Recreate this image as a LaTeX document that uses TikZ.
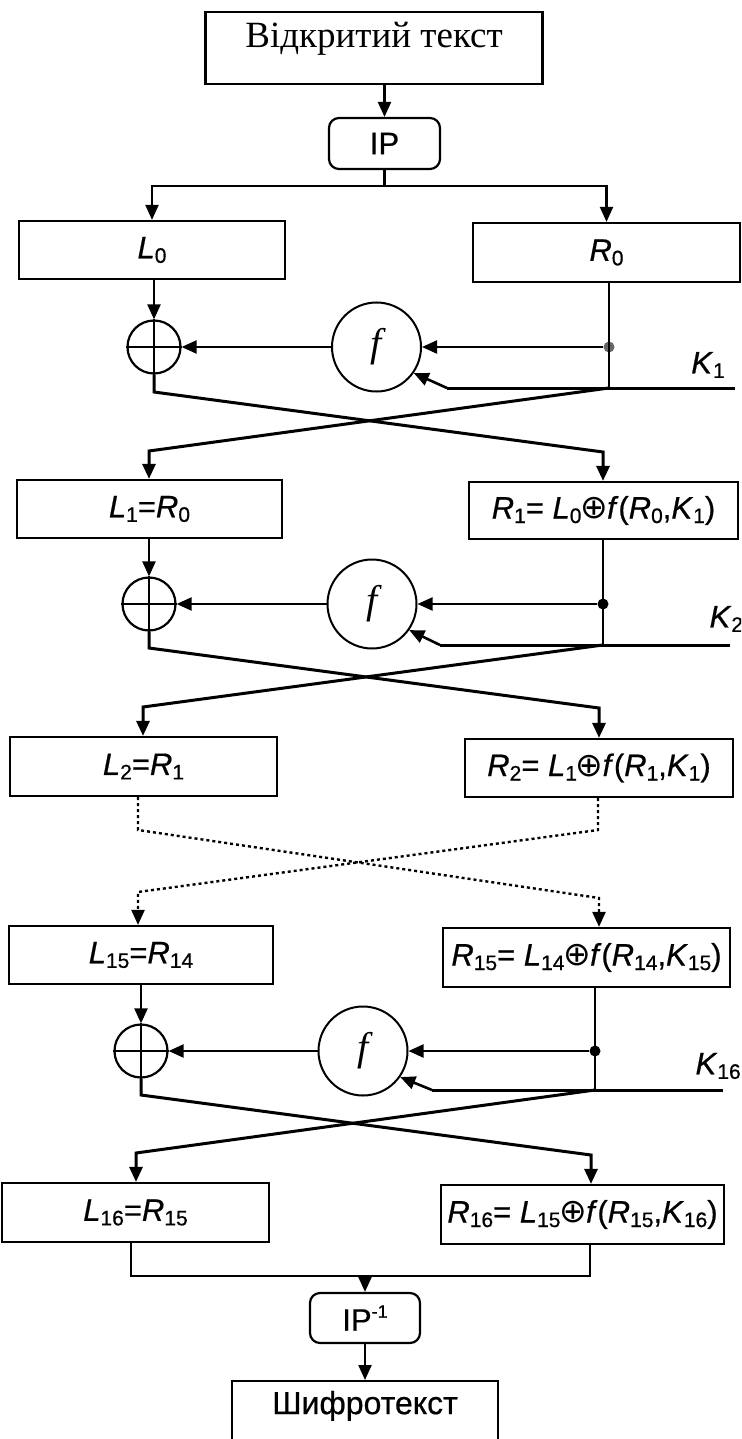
\documentclass[tikz,border=0pt]{standalone}
\usepackage{fontspec}
\setmainfont{Liberation Serif}
\newfontfamily\arial{Liberation Sans}[FakeBold=0.6]
\newfontfamily\djv{DejaVu Sans}
\usetikzlibrary{arrows.meta}
\newcommand\vv[2]{\textit{#1}\raisebox{-4.5pt}{\fontsize{21}{21}\selectfont #2}}
\newcommand\xo{{\djv\fontsize{33}{33}\selectfont\kern-1pt⊕\kern-1pt}}
\begin{document}
\begin{tikzpicture}[x=1pt,y=-1pt,
  box/.style={draw, line width=2.2pt, inner sep=0pt, font=\arial\fontsize{31}{33}\selectfont},
  rbox/.style={box, rounded corners=10pt},
  xorn/.style={circle, draw, line width=2.2pt, minimum size=53pt, inner sep=0pt},
  fn/.style={circle, draw, line width=2pt, minimum size=89pt, inner sep=0pt, font=\fontsize{40}{40}\selectfont\itshape},
  conn/.style={line width=2.2pt, -{Triangle[length=15pt,width=13pt]}},
  plain/.style={line width=2.2pt},
  cross/.style={line width=3pt, -{Triangle[length=15pt,width=13pt]}},
  kline/.style={line width=3pt},
  dots/.style={line width=2.4pt, dash pattern=on 3pt off 3pt, -{Triangle[length=15pt,width=13pt]}},
  dot/.style={circle, fill, inner sep=0pt, minimum size=11pt},
  klab/.style={font=\arial\fontsize{31}{33}\selectfont},
]
\useasboundingbox (0,0) rectangle (741,1439);
\clip (0,0) rectangle (741,1439);

% top
\node[box, font=\fontsize{37}{40}\selectfont, minimum width=337, text height=36pt, text depth=36pt] (pt) at (374,48) {Відкритий текст};
\node[rbox, minimum width=111, minimum height=51] (ip) at (384.5,143.5) {IP};
\draw[conn] (pt.south -| ip.south) -- (ip.north);
\node[box, minimum width=266, minimum height=58] (L0) at (152,250) {\vv{L}{0}};
\node[box, minimum width=267, minimum height=59] (R0) at (606.5,252.5) {\vv{R}{0}};
\coordinate (sp) at (384.5,186);
\draw[plain] (ip.south) -- (sp);
\draw[conn] (sp) -| (L0.north);
\draw[conn] (sp) -| (R0.north);

% round 1
\node[xorn] (x1) at (154,347) {};
\draw[plain] (x1.north) -- (x1.south) (x1.west) -- (x1.east);
\node[fn] (f1) at (376.5,347) {f};
\node[dot, black!60] (d1) at (609,347) {};
\coordinate (r0b) at (609,388);
\coordinate (k1s) at (447,388);
\coordinate (k1e) at (735,388);
\draw[conn] (x1.north |- L0.south) -- (x1.north);
\draw[plain] (R0.south -| d1) -- (r0b);
\draw[conn] (d1) -- (f1.east);
\draw[conn] (f1.west) -- (x1.east);
\draw[kline] (k1e) -- (k1s);
\draw[conn, line width=2.6pt] (k1s) -- (f1.-35);
\node[klab] (k1) at (708,365) {\vv{K}{1}};
\node[box, minimum width=265, minimum height=58] (L1) at (149.5,509) {\vv{L}{1}=\vv{R}{0}};
\node[box, minimum width=269, minimum height=57] (R1) at (603.5,510.5) {\vv{R}{1}= \vv{L}{0}\xo\textit{f}(\vv{R}{0},\vv{K}{1})};
\coordinate (a1) at (154,392);
\coordinate (b1) at (603,452);
\coordinate (c1) at (149,451);
\draw[cross] (x1.south) -- (a1) -- (b1) -- (b1 |- R1.north);
\draw[cross] (r0b) -- (c1) -- (c1 |- L1.north);

% round 2
\node[xorn] (x2) at (149,604) {};
\draw[plain] (x2.north) -- (x2.south) (x2.west) -- (x2.east);
\node[fn] (f2) at (372,604) {f};
\node[dot] (d2) at (603,604) {};
\coordinate (r1b) at (603,645);
\coordinate (k2s) at (440,645);
\coordinate (k2e) at (730,645);
\draw[conn] (x2.north |- L1.south) -- (x2.north);
\draw[plain] (R1.south -| d2) -- (r1b);
\draw[conn] (d2) -- (f2.east);
\draw[conn] (f2.west) -- (x2.east);
\draw[kline] (k2e) -- (k2s);
\draw[conn, line width=2.6pt] (k2s) -- (f2.-35);
\node[klab, anchor=west] (k2) at (706,619) {\vv{K}{2}};
\node[box, minimum width=267, minimum height=59] (L2) at (143.5,766.5) {\vv{L}{2}=\vv{R}{1}};
\node[box, minimum width=268, minimum height=58] (R2) at (599,768) {\vv{R}{2}= \vv{L}{1}\xo\textit{f}(\vv{R}{1},\vv{K}{1})};
\coordinate (a2) at (149,648);
\coordinate (b2) at (599,708);
\coordinate (c2) at (143,707);
\draw[cross] (x2.south) -- (a2) -- (b2) -- (b2 |- R2.north);
\draw[cross] (r1b) -- (c2) -- (c2 |- L2.north);

% dotted part
\node[box, minimum width=264, minimum height=58] (L15) at (141,955) {\vv{L}{15}=\vv{R}{14}};
\node[box, minimum width=287, minimum height=59] (R15) at (586.5,957.5) {\vv{R}{15}= \vv{L}{14}\xo\textit{f}(\vv{R}{14},\vv{K}{15})};
\coordinate (p1) at (138,830);
\coordinate (p2) at (598,830);
\coordinate (q1) at (599,898);
\coordinate (q2) at (138,892);
\draw[dots] (L2.south -| p1) -- (p1) -- (q1) -- (q1 |- R15.north);
\draw[dots] (R2.south -| p2) -- (p2) -- (q2) -- (q2 |- L15.north);

% round 16
\node[xorn] (x3) at (141,1051) {};
\draw[plain] (x3.north) -- (x3.south) (x3.west) -- (x3.east);
\node[fn] (f3) at (363,1051) {f};
\node[dot] (d3) at (595,1051) {};
\coordinate (r15b) at (595,1090);
\coordinate (k3s) at (432,1090);
\coordinate (k3e) at (723,1090);
\draw[conn] (x3.north |- L15.south) -- (x3.north);
\draw[plain] (R15.south -| d3) -- (r15b);
\draw[conn] (d3) -- (f3.east);
\draw[conn] (f3.west) -- (x3.east);
\draw[kline] (k3e) -- (k3s);
\draw[conn, line width=2.6pt] (k3s) -- (f3.-35);
\node[klab, anchor=west] (k16) at (692,1066) {\vv{K}{16}};
\node[box, minimum width=267, minimum height=59] (L16) at (135.5,1212.5) {\vv{L}{16}=\vv{R}{15}};
\node[box, minimum width=283, minimum height=59] (R16) at (582.5,1214.5) {\vv{R}{16}= \vv{L}{15}\xo\textit{f}(\vv{R}{15},\vv{K}{16})};
\coordinate (a3) at (141,1095);
\coordinate (b3) at (591,1155);
\coordinate (c3) at (136,1153);
\draw[cross] (x3.south) -- (a3) -- (b3) -- (b3 |- R16.north);
\draw[cross] (r15b) -- (c3) -- (c3 |- L16.north);

% output
\node[rbox, minimum width=110, minimum height=50] (ipi) at (365,1318) {IP\raisebox{13pt}{\fontsize{18}{18}\selectfont -1}};
\coordinate (m1) at (131,1276);
\coordinate (m2) at (590,1276);
\draw[plain] (L16.south -| m1) -- (m1) -- (m2) -- (R16.south -| m2);
\draw[conn] (ipi.north |- m1) -- (ipi.north);
\node[box, anchor=north, minimum width=266, text height=33pt, text depth=67pt, font=\arial\fontsize{32}{33}\selectfont] (ct) at (365,1380) {Шифротекст};
\draw[conn] (ipi.south) -- (ct.north);
\end{tikzpicture}
\end{document}
